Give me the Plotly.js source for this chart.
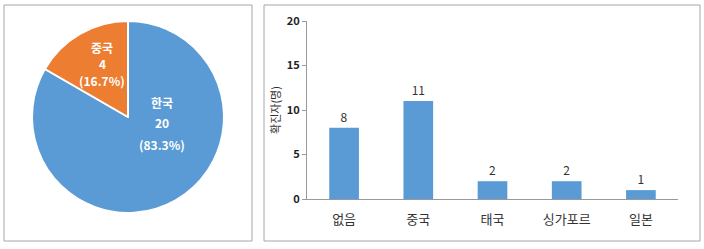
<!DOCTYPE html>
<html><head><meta charset="utf-8">
<script src="https://cdn.plot.ly/plotly-3.0.1.min.js"></script>
<style>html,body{margin:0;padding:0;background:#fff}#c{width:704px;height:249px}</style>
</head><body><div id="c"></div>
<script>
// pie data
const pieLabels = ['한국', '중국'];
const pieValues = [20, 4];
const pieColors = ['#5B9BD5', '#ED7D31'];
// bar data
const barCats = ['없음', '중국', '태국', '싱가포르', '일본'];
const barValues = [8, 11, 2, 2, 1];
const yTitle = '확진자(명)';

const W = 704, H = 249;
const px = x => x / W, py = y => 1 - y / H;
const FONT = '"Noto Sans CJK KR", "Noto Sans", sans-serif';

const total = pieValues.reduce((a, b) => a + b, 0);
const pct = v => (v / total * 100).toFixed(1) + '%';

const pie = {
  type: 'pie', labels: pieLabels, values: pieValues, sort: false,
  direction: 'clockwise', rotation: 0,
  marker: { colors: pieColors, line: { color: '#fff', width: 2 } },
  textinfo: 'none', hoverinfo: 'label+value+percent', showlegend: false,
  domain: { x: [px(32), px(224)], y: [py(213), py(21)] }
};

const bar = {
  type: 'bar', x: barCats, y: barValues, marker: { color: '#5B9BD5' },
  text: barValues.map(String), textposition: 'outside', cliponaxis: false,
  textfont: { size: 12, color: '#333', family: FONT },
  xaxis: 'x', yaxis: 'y', showlegend: false
};

// pie label annotations (text from data)
const labelPos = [[162, 102, 21], [102, 47, 16.5]];
const annotations = [];
pieLabels.forEach((lab, i) => {
  const [x, y0, dy] = labelPos[i];
  [lab, String(pieValues[i]), '(' + pct(pieValues[i]) + ')'].forEach((t, k) => {
    annotations.push({
      xref: 'paper', yref: 'paper', x: px(x), y: py(y0 + k * dy),
      xanchor: 'center', yanchor: 'middle', showarrow: false,
      text: '<b>' + t + '</b>', font: { size: 12, color: '#fff', family: FONT }
    });
  });
});

const boxes = [[4, 5, 252, 241], [264, 5, 700, 241]].map(([x0, y0, x1, y1]) => ({
  type: 'rect', xref: 'paper', yref: 'paper',
  x0: px(x0), x1: px(x1), y0: py(y1), y1: py(y0),
  line: { color: '#a6a6a6', width: 1 }, fillcolor: 'rgba(0,0,0,0)'
}));

const layout = {
  width: W, height: H, margin: { l: 0, r: 0, t: 0, b: 0 },
  paper_bgcolor: '#fff', plot_bgcolor: '#fff',
  font: { family: FONT, color: '#333' },
  bargap: 0.6,
  xaxis: {
    domain: [px(307), px(678)], showgrid: false, zeroline: false,
    showline: true, linecolor: '#999', linewidth: 1, ticks: '',
    ticklabelstandoff: 8,
    tickfont: { size: 13, color: '#333', family: FONT }, fixedrange: true
  },
  yaxis: {
    domain: [py(199), py(21)], range: [0, 20], dtick: 5, showgrid: false,
    zeroline: false, showline: true, linecolor: '#999', linewidth: 1,
    ticks: 'outside', ticklen: 4, tickcolor: '#999',
    tickfont: { size: 11, color: '#222', family: FONT, weight: 'bold' },
    title: { text: yTitle, font: { size: 11, color: '#333', family: FONT }, standoff: 3 },
    fixedrange: true
  },
  shapes: boxes,
  annotations: annotations
};

Plotly.newPlot('c', [pie, bar], layout, { displayModeBar: false, staticPlot: true });
</script></body></html>
